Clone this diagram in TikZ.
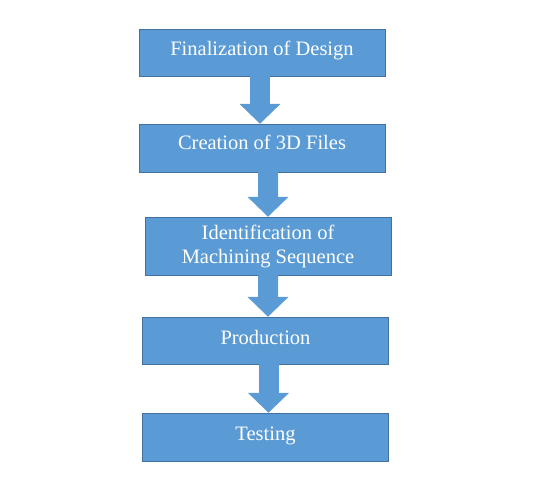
\documentclass[tikz,border=0pt]{standalone}
\usepackage{fontspec}
\setmainfont{Liberation Serif}
\usetikzlibrary{arrows.meta}

\definecolor{boxfill}{HTML}{5B9BD5}
\definecolor{boxline}{HTML}{41719C}

\begin{document}
\begin{tikzpicture}[x=1bp, y=-1bp,
  stage/.style={draw=boxline, fill=boxfill, text=white, rectangle,
    minimum width=246bp, inner sep=0pt, font=\fontsize{20.5bp}{24bp}\selectfont},
  oneline/.style={text height=27bp, text depth=20bp},
  flow/.style={draw=boxfill, line width=20bp,
    -{Triangle[length=20bp, width=40bp]}}]
%%
  \useasboundingbox (0,0) rectangle (545,497);
  \node (design) at (262,52.5) [stage, oneline] {Finalization of Design};
  \node (files) at (262,148) [stage, text height=26bp, text depth=22bp] {Creation of 3D Files};
  \node (sequence) at (268,246) [stage, minimum height=58bp, align=center] {Identification of\\Machining Sequence};
  \node (production) at (265.5,340.5) [stage, oneline] {Production};
  \node (testing) at (265.5,437) [stage, text height=27bp, text depth=21bp] {Testing};
  \draw [flow] ([xshift=-2bp]design.south) -- ([xshift=-2bp]files.north);
  \draw [flow] ([xshift=6bp]files.south) -- ([xshift=0bp]sequence.north);
  \draw [flow] (sequence.south) -- ([xshift=2.5bp]production.north);
  \draw [flow] ([xshift=3bp]production.south) -- ([xshift=3bp]testing.north);
%
\end{tikzpicture}
\end{document}
